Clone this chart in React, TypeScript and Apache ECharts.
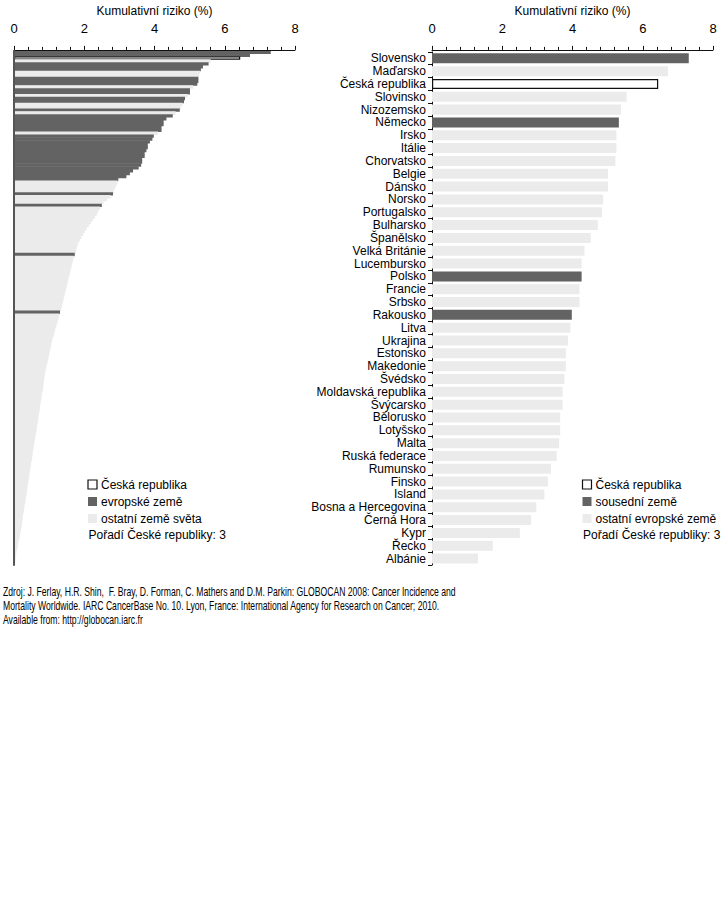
import React, { useEffect, useRef } from "react";
import * as echarts from "echarts";

// ---------- data ----------
const axisTitle = "Kumulativní riziko (%)";
const xTicks = [0, 2, 4, 6, 8];

// Right panel: European countries
const europeCountries = [
  "Slovensko", "Maďarsko", "Česká republika", "Slovinsko", "Nizozemsko", "Německo",
  "Irsko", "Itálie", "Chorvatsko", "Belgie", "Dánsko", "Norsko", "Portugalsko",
  "Bulharsko", "Španělsko", "Velká Británie", "Lucembursko", "Polsko", "Francie",
  "Srbsko", "Rakousko", "Litva", "Ukrajina", "Estonsko", "Makedonie", "Švédsko",
  "Moldavská republika", "Švýcarsko", "Bělorusko", "Lotyšsko", "Malta",
  "Ruská federace", "Rumunsko", "Finsko", "Island", "Bosna a Hercegovina",
  "Černá Hora", "Kypr", "Řecko", "Albánie",
];
const europeValues = [
  7.31, 6.72, 6.44, 5.54, 5.38, 5.32, 5.25, 5.25, 5.22, 5.01, 5.01, 4.87, 4.84,
  4.72, 4.52, 4.34, 4.26, 4.26, 4.20, 4.20, 3.98, 3.94, 3.87, 3.81, 3.81, 3.77,
  3.72, 3.72, 3.65, 3.65, 3.62, 3.55, 3.39, 3.30, 3.20, 2.97, 2.82, 2.50, 1.73, 1.31,
];
const neighbours = ["Slovensko", "Německo", "Polsko", "Rakousko"];
const czech = "Česká republika";

// Left panel: all countries of the world, ranked (D = European, C = Czech Rep., L = other)
const worldValues = [
  7.31, 6.72, 6.44, 5.60, 5.54, 5.38, 5.32, 5.30, 5.27, 5.25,
  5.25, 5.22, 5.10, 5.01, 5.01, 4.95, 4.87, 4.84, 4.80, 4.76,
  4.72, 4.60, 4.52, 4.34, 4.26, 4.26, 4.20, 4.20, 4.10, 3.98,
  3.94, 3.87, 3.81, 3.81, 3.77, 3.72, 3.72, 3.65, 3.65, 3.62,
  3.55, 3.39, 3.30, 3.20, 2.97, 2.95, 2.92, 2.88, 2.84, 2.82,
  2.75, 2.65, 2.55, 2.50, 2.45, 2.40, 2.36, 2.31, 2.25, 2.19,
  2.13, 2.07, 2.02, 1.97, 1.92, 1.87, 1.83, 1.80, 1.78, 1.76,
  1.73, 1.70, 1.68, 1.66, 1.64, 1.62, 1.60, 1.58, 1.56, 1.54,
  1.52, 1.50, 1.48, 1.46, 1.44, 1.42, 1.40, 1.38, 1.36, 1.34,
  1.31, 1.29, 1.27, 1.25, 1.22, 1.20, 1.17, 1.15, 1.13, 1.10,
  1.08, 1.06, 1.05, 1.03, 1.01, 0.99, 0.98, 0.96, 0.94, 0.92,
  0.90, 0.89, 0.87, 0.86, 0.85, 0.84, 0.83, 0.82, 0.80, 0.79,
  0.78, 0.76, 0.75, 0.74, 0.73, 0.71, 0.70, 0.69, 0.68, 0.66,
  0.65, 0.64, 0.62, 0.61, 0.60, 0.58, 0.57, 0.56, 0.54, 0.53,
  0.52, 0.51, 0.49, 0.48, 0.47, 0.45, 0.44, 0.43, 0.42, 0.40,
  0.39, 0.38, 0.37, 0.36, 0.34, 0.33, 0.32, 0.30, 0.29, 0.28,
  0.26, 0.25, 0.24, 0.23, 0.22, 0.20, 0.19, 0.17, 0.16, 0.14,
  0.12, 0.11, 0.09, 0.07, 0.06, 0.05, 0.04, 0.03,
];
const worldKinds = (
  "DDCLDDDLLD" + "DDLDDLDDLL" + "DLDDDDDDLD" + "DDDDDDDDDD" +
  "DDDDDLLLLD" + "LLLDLLLLLL" + "LLLLLLLLLL" + "DLLLLLLLLL" +
  "LLLLLLLLLL" + "DLLLLLLLLL" + "LLLLLLLLLL" + "LLLLLLLLLL" +
  "LLLLLLLLLL" + "LLLLLLLLLL" + "LLLLLLLLLL" + "LLLLLLLLLL" +
  "LLLLLLLLLL" + "LLLLLLLL"
).split("");
const worldRanks = worldValues.map((_, i) => String(i + 1));

const leftLegend = ["Česká republika", "evropské země", "ostatní země světa", "Pořadí České republiky: 3"];
const rightLegend = ["Česká republika", "sousední země", "ostatní evropské země", "Pořadí České republiky: 3"];
const sourceLines = [
  "Zdroj: J. Ferlay, H.R. Shin,  F. Bray, D. Forman, C. Mathers and D.M. Parkin: GLOBOCAN 2008: Cancer Incidence and",
  "Mortality Worldwide. IARC CancerBase No. 10. Lyon, France: International Agency for Research on Cancer; 2010.",
  "Available from: http://globocan.iarc.fr",
];

// ---------- styles ----------
const FONT = "'Liberation Sans', Arial, sans-serif";
const DARK = "#636363";
const LIGHT = "#ebebeb";
const czechStyle = { color: "#ffffff", borderColor: "#111111", borderWidth: 1.2 };

function kindStyle(k: string) {
  if (k === "C") return czechStyle;
  if (k === "D") return { color: DARK };
  return { color: LIGHT };
}

function valueAxis(gridIndex: number, offset: number) {
  return {
    type: "value",
    gridIndex,
    position: "top",
    offset,
    min: 0,
    max: 8,
    interval: 2,
    name: axisTitle,
    nameLocation: "middle",
    nameGap: 32,
    nameTextStyle: { fontFamily: FONT, fontSize: 12, color: "#000" },
    axisLine: { show: true, lineStyle: { color: "#111", width: 1 } },
    axisTick: { show: true, inside: false, length: 4, lineStyle: { color: "#111" } },
    minorTick: { show: true, splitNumber: 5, length: 3, lineStyle: { color: "#111" } },
    axisLabel: {
      fontFamily: FONT, fontSize: 13, color: "#000", margin: 15,
      formatter: (v: number) => (xTicks.includes(v) ? String(v) : ""),
    },
    splitLine: { show: false },
  };
}

function legendGraphics(x: number, labels: string[]) {
  const rows = [484.5, 501.5, 518.5];
  const els: any[] = [];
  const styles = [
    { fill: "#fff", stroke: "#111", lineWidth: 1.2 },
    { fill: DARK },
    { fill: LIGHT },
  ];
  rows.forEach((y, i) => {
    els.push({ type: "rect", shape: { x, y: y - 4.5, width: 9, height: 9 }, style: styles[i] });
    els.push({
      type: "text", x: x + 13, y,
      style: { text: labels[i], fontFamily: FONT, fontSize: 12, fill: "#000", verticalAlign: "middle" },
    });
  });
  els.push({
    type: "text", x: x + 0.5, y: 535,
    style: { text: labels[3], fontFamily: FONT, fontSize: 12, fill: "#000", verticalAlign: "middle" },
  });
  return els;
}

export default function App() {
  const ref = useRef<HTMLDivElement>(null);
  useEffect(() => {
    if (!ref.current) return;
    const chart = echarts.init(ref.current, undefined, { renderer: "svg" });
    chart.setOption({
      animation: false,
      backgroundColor: "#fff",
      grid: [
        { left: 14, top: 45, width: 281, height: 520 },
        { left: 432, top: 46, width: 281, height: 519 },
      ],
      xAxis: [valueAxis(0, 1), valueAxis(1, 2)],
      yAxis: [
        {
          type: "category", gridIndex: 0, inverse: true, data: worldRanks,
          axisLine: { show: true, lineStyle: { color: "#555", width: 2 } },
          axisTick: { show: false },
          axisLabel: { show: false },
          z: 5,
        },
        {
          type: "category", gridIndex: 1, inverse: true, data: europeCountries,
          axisLine: { show: true, lineStyle: { color: "#111", width: 1 } },
          axisTick: { show: true, length: 4, interval: 0, lineStyle: { color: "#111" } },
          axisLabel: { fontFamily: FONT, fontSize: 12, color: "#000", margin: 6, interval: 0 },
        },
      ],
      series: [
        {
          type: "bar", xAxisIndex: 0, yAxisIndex: 0, barWidth: 3.4,
          data: worldValues.map((v, i) => ({ value: v, itemStyle: kindStyle(worldKinds[i]) })),
        },
        {
          type: "bar", xAxisIndex: 1, yAxisIndex: 1, barCategoryGap: "22%",
          data: europeValues.map((v, i) => {
            const name = europeCountries[i];
            const style = name === czech ? czechStyle : neighbours.includes(name) ? { color: DARK } : { color: LIGHT };
            return { value: v, itemStyle: style };
          }),
        },
      ],
      graphic: [
        ...legendGraphics(88, leftLegend),
        ...legendGraphics(582.5, rightLegend),
        ...sourceLines.map((t, i) => ({
          type: "text", x: 3, y: 591.5 + i * 14, scaleX: 0.72,
          style: { text: t, fontFamily: FONT, fontSize: 12, fill: "#000", verticalAlign: "middle" },
        })),
      ],
    });
    return () => chart.dispose();
  }, []);
  return (
    <div
      ref={ref}
      style={{ position: "absolute", left: 0, top: 0, width: 727, height: 922, background: "#fff" }}
    />
  );
}
